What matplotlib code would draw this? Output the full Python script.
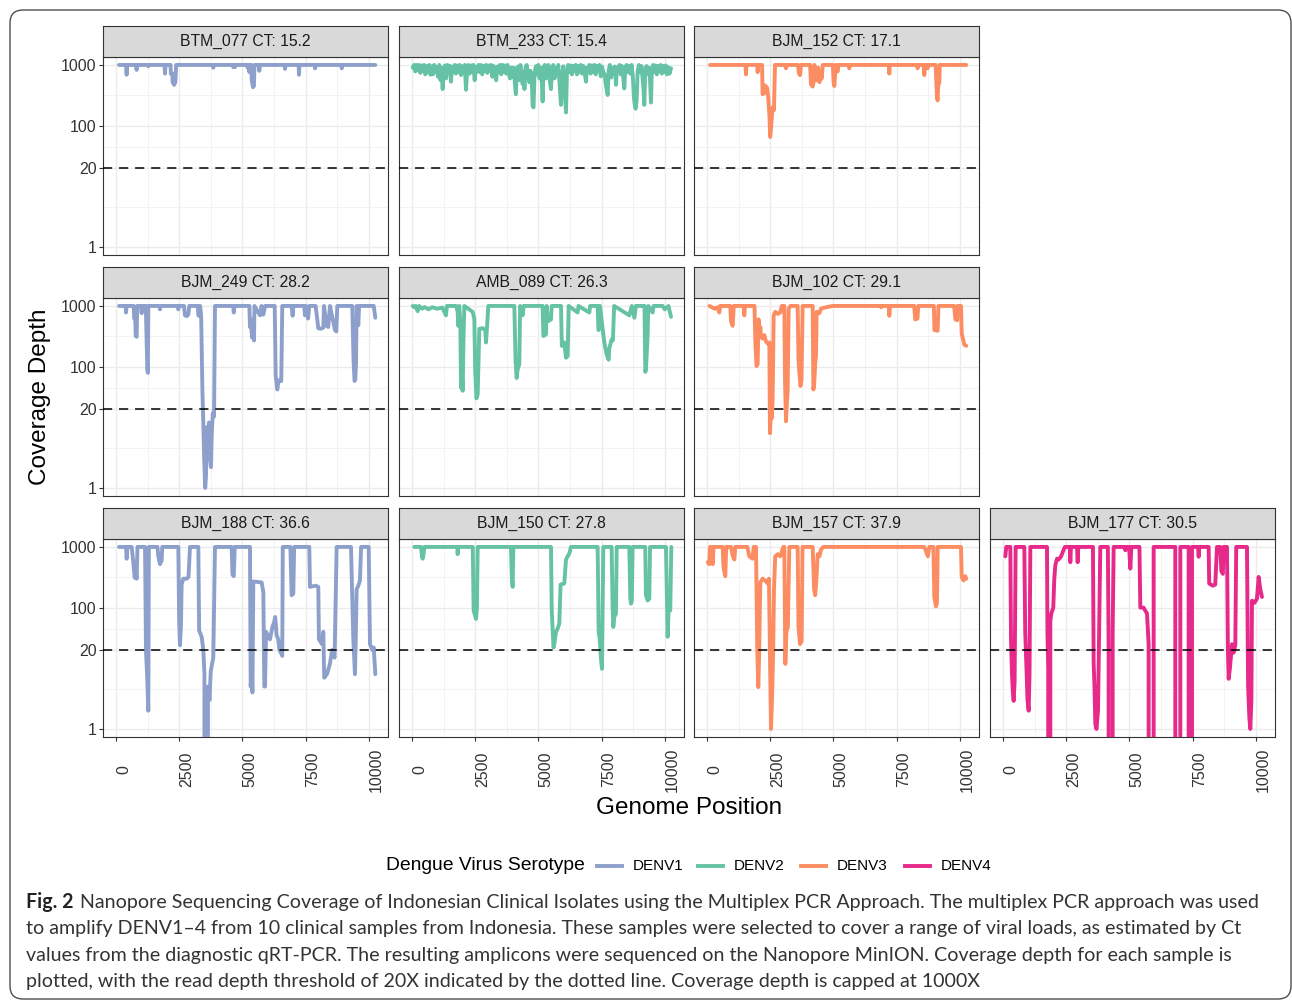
import numpy as np
import matplotlib
matplotlib.use("Agg")
import matplotlib.pyplot as plt
from matplotlib.lines import Line2D
from matplotlib.patches import FancyBboxPatch
from matplotlib.ticker import FixedLocator, NullFormatter

plt.rcParams['font.family'] = ['Liberation Sans', 'DejaVu Sans']

# ---- data (genome position, coverage depth) ----
serotypes = ['DENV1', 'DENV2', 'DENV3', 'DENV4']
serotype_colours = ['#8DA0CB', '#66C2A5', '#FC8D62', '#E7298A']

sample_names = ['BTM_077', 'BTM_233', 'BJM_152', 'BJM_249', 'AMB_089',
                'BJM_102', 'BJM_188', 'BJM_150', 'BJM_157', 'BJM_177']
sample_ct = [15.2, 15.4, 17.1, 28.2, 26.3, 29.1, 36.6, 27.8, 37.9, 30.5]
sample_serotype = ['DENV1', 'DENV2', 'DENV3', 'DENV1', 'DENV2',
                   'DENV3', 'DENV1', 'DENV2', 'DENV3', 'DENV4']

btm_077 = [(120, 1000), (400, 1000), (420, 690), (440, 1000), (800, 1000), (815, 830), (830, 1000),
           (1270, 1000), (1280, 950), (1290, 1000), (1920, 1000), (1940, 720), (1960, 1000),
           (2160, 1000), (2170, 720), (2230, 720), (2240, 520), (2300, 470), (2350, 520), (2380, 1000),
           (3840, 1000), (3850, 900), (3860, 1000), (4630, 1000), (4640, 920), (4650, 1000),
           (4700, 1000), (4710, 920), (4720, 1000), (5200, 1000), (5210, 900), (5220, 1000),
           (5270, 1000), (5280, 760), (5300, 1000), (5360, 1000), (5370, 560), (5420, 430),
           (5460, 450), (5480, 1000), (5660, 1000), (5670, 800), (5690, 1000), (6680, 1000),
           (6690, 860), (6700, 1000), (7230, 1000), (7240, 690), (7260, 1000), (7870, 1000),
           (7880, 880), (7890, 1000), (8920, 1000), (8935, 880), (8960, 1000), (10262, 1000)]

btm_233 = [(30, 900), (80, 1000), (130, 780), (180, 1000), (230, 820), (280, 1000), (330, 740),
           (380, 980), (430, 800), (480, 1000), (530, 700), (580, 960), (630, 760), (680, 1000),
           (730, 690), (780, 950), (830, 700), (880, 1000), (930, 760), (980, 930), (1030, 640),
           (1080, 1000), (1130, 560), (1170, 900), (1213, 400), (1250, 760), (1300, 980), (1350, 600),
           (1400, 1000), (1450, 780), (1500, 960), (1543, 530), (1590, 940), (1640, 760), (1690, 1000),
           (1740, 720), (1790, 980), (1840, 760), (1890, 1000), (1940, 680), (1990, 950), (2040, 740),
           (2090, 1000), (2137, 390), (2180, 800), (2230, 1000), (2280, 720), (2330, 980), (2380, 760),
           (2430, 1000), (2480, 560), (2530, 920), (2580, 780), (2630, 1000), (2680, 760), (2730, 1000),
           (2780, 700), (2830, 960), (2880, 800), (2930, 1000), (2980, 740), (3030, 980), (3080, 800),
           (3130, 1000), (3180, 640), (3230, 960), (3280, 760), (3330, 560), (3380, 940), (3430, 760),
           (3480, 1000), (3530, 700), (3580, 1000), (3630, 760), (3680, 980), (3730, 720), (3780, 1000),
           (3830, 760), (3880, 600), (3930, 900), (3980, 640), (4030, 900), (4080, 450), (4110, 330),
           (4140, 720), (4190, 940), (4240, 560), (4290, 1000), (4340, 640), (4380, 480), (4420, 760),
           (4450, 400), (4490, 900), (4540, 1000), (4590, 700), (4640, 520), (4690, 800), (4740, 560),
           (4775, 210), (4810, 200), (4850, 700), (4900, 950), (4950, 700), (5000, 1000), (5050, 600),
           (5100, 900), (5140, 500), (5170, 250), (5200, 800), (5250, 1000), (5300, 600), (5350, 900),
           (5400, 1000), (5450, 560), (5500, 400), (5540, 900), (5590, 1000), (5640, 600), (5690, 900),
           (5740, 760), (5790, 1000), (5850, 420), (5896, 220), (5940, 700), (5990, 950), (6040, 400),
           (6094, 165), (6130, 700), (6180, 1000), (6230, 760), (6280, 980), (6330, 700), (6380, 960),
           (6430, 800), (6480, 1000), (6530, 700), (6580, 960), (6630, 760), (6680, 1000), (6730, 720),
           (6780, 960), (6830, 760), (6885, 530), (6920, 900), (6970, 760), (7020, 1000), (7070, 720),
           (7120, 980), (7170, 760), (7220, 1000), (7270, 700), (7320, 960), (7370, 800), (7420, 1000),
           (7470, 650), (7520, 940), (7570, 760), (7620, 700), (7680, 450), (7743, 320), (7780, 800),
           (7830, 1000), (7880, 620), (7930, 900), (7980, 720), (8030, 940), (8072, 470), (8110, 900),
           (8160, 760), (8210, 1000), (8260, 700), (8310, 960), (8360, 600), (8402, 410), (8440, 900),
           (8490, 1000), (8540, 760), (8590, 960), (8640, 720), (8690, 1000), (8740, 640), (8780, 300),
           (8810, 230), (8850, 190), (8890, 260), (8930, 800), (8980, 1000), (9030, 760), (9080, 960),
           (9130, 560), (9160, 420), (9193, 220), (9230, 800), (9280, 960), (9330, 720), (9380, 900),
           (9420, 560), (9457, 240), (9490, 800), (9540, 1000), (9590, 760), (9640, 980), (9690, 700),
           (9740, 960), (9790, 780), (9840, 1000), (9890, 720), (9940, 960), (9990, 760), (10040, 980),
           (10090, 700), (10140, 920), (10190, 720), (10250, 880)]

bjm_152 = [(120, 1000), (1520, 1000), (1543, 700), (1560, 1000), (1990, 1000), (2005, 760), (2020, 1000),
           (2180, 1000), (2200, 330), (2260, 340), (2290, 460), (2380, 420), (2420, 300), (2470, 150),
           (2500, 65), (2532, 90), (2560, 130), (2600, 200), (2650, 180), (2690, 1000), (3100, 1000),
           (3126, 880), (3150, 1000), (3600, 1000), (3640, 720), (3680, 680), (3720, 1000), (4080, 1000),
           (4115, 480), (4180, 440), (4220, 520), (4250, 1000), (4300, 780), (4350, 560), (4400, 900),
           (4450, 520), (4480, 760), (4540, 600), (4580, 1000), (4980, 1000), (5010, 520), (5039, 450),
           (5070, 700), (5100, 1000), (5170, 780), (5200, 1000), (5620, 1000), (5632, 880), (5650, 1000),
           (7200, 1000), (7215, 720), (7230, 1000), (8320, 1000), (8336, 880), (8350, 1000), (8580, 1000),
           (8600, 680), (8620, 1000), (8720, 1000), (8732, 880), (8750, 1000), (9050, 1000), (9070, 600),
           (9100, 300), (9127, 260), (9150, 470), (9193, 500), (9210, 1000), (10262, 1000)]

bjm_249 = [(120, 1000), (380, 1000), (396, 780), (420, 1000), (700, 1000), (725, 620), (760, 700),
           (780, 320), (818, 310), (840, 1000), (990, 1000), (1016, 760), (1040, 1000), (1180, 1000),
           (1213, 260), (1240, 90), (1260, 79), (1280, 1000), (1720, 1000), (1741, 880), (1760, 1000),
           (2450, 1000), (2467, 880), (2480, 1000), (2690, 1000), (2730, 700), (2800, 680), (2860, 720),
           (2900, 1000), (3240, 1000), (3258, 700), (3300, 680), (3330, 1000), (3370, 700), (3420, 40),
           (3456, 12), (3490, 3), (3530, 1.0), (3560, 1.5), (3600, 10), (3640, 8), (3680, 12), (3720, 3),
           (3760, 2.2), (3790, 8), (3830, 17), (3880, 15), (3917, 1000), (4640, 1000), (4660, 780),
           (4690, 1000), (5280, 1000), (5302, 450), (5340, 500), (5390, 300), (5420, 600), (5461, 270),
           (5480, 1000), (5700, 700), (5760, 1000), (5830, 720), (5900, 1000), (6280, 1000), (6320, 70),
           (6384, 42), (6420, 55), (6470, 60), (6540, 58), (6580, 1000), (6950, 1000), (6990, 690),
           (7020, 1000), (7450, 1000), (7480, 700), (7520, 1000), (7600, 620), (7650, 1000), (7900, 1000),
           (8006, 430), (8100, 420), (8204, 440), (8230, 1000), (8336, 470), (8400, 450), (8468, 1000),
           (8666, 400), (8720, 380), (8758, 1000), (9350, 1000), (9400, 130), (9440, 58), (9470, 62),
           (9500, 120), (9523, 1000), (9589, 480), (9620, 1000), (10200, 1000), (10262, 640)]

amb_089 = [(30, 1000), (90, 950), (150, 1000), (224, 820), (280, 1000), (400, 900), (500, 960),
           (650, 880), (800, 950), (1000, 900), (1200, 940), (1345, 700), (1380, 1000), (1750, 1000),
           (1807, 800), (1830, 470), (1870, 1000), (1913, 520), (1939, 45), (1970, 90), (2005, 40),
           (2040, 300), (2071, 1000), (2400, 800), (2467, 620), (2500, 90), (2550, 30), (2600, 35),
           (2664, 420), (2800, 430), (2900, 400), (2928, 250), (2970, 450), (3020, 1000), (4049, 1000),
           (4100, 120), (4142, 65), (4181, 90), (4247, 110), (4280, 1000), (4379, 700), (4420, 1000),
           (5170, 1000), (5200, 320), (5302, 340), (5330, 1000), (5380, 560), (5500, 600), (5530, 1000),
           (5896, 1000), (5930, 220), (6028, 250), (6094, 140), (6160, 150), (6200, 1000), (6555, 780),
           (6590, 1000), (7017, 780), (7050, 1000), (7347, 1000), (7380, 400), (7413, 420), (7440, 1000),
           (7545, 420), (7611, 250), (7700, 160), (7782, 130), (7808, 200), (7900, 280), (7950, 270),
           (8000, 1000), (8600, 700), (8700, 1000), (8800, 640), (8860, 1000), (9200, 1000), (9233, 82),
           (9259, 90), (9300, 200), (9325, 330), (9350, 1000), (9523, 780), (9560, 1000), (9920, 1000),
           (10000, 880), (10150, 1000), (10250, 660)]

bjm_102 = [(100, 1000), (300, 900), (400, 950), (488, 780), (520, 1000), (920, 1000), (950, 560),
           (1016, 470), (1060, 1000), (1450, 1000), (1477, 700), (1500, 1000), (1880, 1000), (1913, 250),
           (1960, 102), (2005, 110), (2040, 600), (2071, 300), (2110, 450), (2137, 330), (2203, 290),
           (2269, 330), (2335, 260), (2400, 240), (2467, 250), (2493, 8), (2532, 20), (2560, 14),
           (2598, 29), (2638, 700), (2700, 800), (2800, 740), (2900, 780), (2960, 1000), (3060, 1000),
           (3087, 60), (3126, 12.6), (3160, 25), (3192, 40), (3232, 900), (3300, 1000), (3588, 1000),
           (3620, 130), (3654, 80), (3700, 48), (3740, 60), (3785, 1000), (4181, 1000), (4210, 42),
           (4240, 50), (4280, 110), (4313, 150), (4340, 800), (4445, 760), (4511, 900), (4700, 950),
           (4973, 1000), (6880, 1000), (6890, 950), (6900, 1000), (7200, 1000), (7215, 690), (7240, 1000),
           (8200, 1000), (8240, 600), (8330, 620), (8360, 1000), (8980, 1000), (9000, 400), (9127, 390),
           (9160, 1000), (9780, 1000), (9830, 600), (9900, 580), (9919, 1000), (10051, 1000),
           (10080, 350), (10183, 230), (10262, 220)]

bjm_188 = [(120, 1000), (396, 1000), (422, 640), (450, 1000), (620, 1000), (686, 560), (740, 310),
           (780, 400), (818, 300), (850, 1000), (1150, 1000), (1187, 19), (1230, 8), (1279, 2.0),
           (1300, 1000), (1640, 1000), (1675, 700), (1741, 520), (1807, 600), (1830, 1000), (2467, 1000),
           (2500, 60), (2532, 24), (2570, 50), (2598, 240), (2664, 300), (2800, 300), (2870, 320),
           (2928, 1000), (3258, 1000), (3290, 42), (3390, 33), (3456, 20), (3500, 8), (3540, 0),
           (3614, 0), (3640, 5), (3700, 3), (3750, 9), (3850, 15), (3917, 1000), (4577, 1000),
           (4610, 350), (4660, 330), (4700, 1000), (5302, 1000), (5330, 5), (5368, 10), (5400, 4),
           (5434, 270), (5764, 260), (5830, 180), (5870, 5), (5896, 5), (5940, 40), (6028, 33),
           (6094, 30), (6200, 50), (6250, 55), (6300, 70), (6358, 35), (6420, 30), (6470, 20),
           (6555, 17), (6580, 16), (6600, 1000), (6900, 1000), (6951, 160), (7017, 170), (7050, 1000),
           (7650, 1000), (7677, 220), (7900, 230), (8006, 220), (8030, 30), (8150, 25), (8204, 40),
           (8240, 7), (8350, 8), (8468, 12), (8550, 20), (8650, 15), (8732, 1000), (9300, 1000),
           (9391, 30), (9457, 8), (9490, 35), (9523, 200), (9589, 230), (9655, 280), (9700, 1000),
           (10000, 1000), (10051, 25), (10150, 20), (10200, 22), (10262, 8)]

bjm_150 = [(92, 1000), (356, 1000), (396, 700), (420, 640), (460, 760), (488, 1000), (1800, 1000),
           (1807, 760), (1820, 1000), (2405, 1000), (2440, 90), (2532, 65), (2570, 100), (2600, 1000),
           (3917, 1000), (3950, 330), (3983, 220), (4010, 1000), (5500, 1000), (5530, 90), (5600, 22),
           (5632, 25), (5698, 40), (5764, 45), (5830, 55), (5880, 240), (6028, 250), (6094, 620),
           (6160, 700), (6226, 780), (6290, 1000), (7347, 1000), (7386, 40), (7430, 30), (7479, 14),
           (7518, 9.8), (7545, 100), (7570, 1000), (7900, 1000), (7940, 100), (7967, 48), (8006, 70),
           (8072, 80), (8100, 1000), (8600, 1000), (8640, 140), (8666, 116), (8700, 130), (8732, 1000),
           (9230, 1000), (9259, 160), (9325, 131), (9391, 140), (9420, 1000), (10051, 1000),
           (10117, 33), (10160, 110), (10220, 90), (10262, 1000)]

bjm_157 = [(30, 560), (92, 520), (120, 1000), (158, 700), (200, 1000), (224, 520), (260, 1000),
           (620, 1000), (650, 500), (686, 390), (725, 330), (760, 1000), (950, 1000), (1016, 720),
           (1082, 620), (1120, 1000), (1600, 1000), (1675, 700), (1800, 640), (1850, 1000), (1939, 1000),
           (1990, 20), (2030, 4.9), (2060, 15), (2110, 260), (2200, 300), (2300, 280), (2401, 250),
           (2450, 300), (2480, 40), (2532, 1.0), (2572, 3), (2620, 20), (2650, 200), (2700, 700),
           (2800, 760), (2900, 700), (3020, 1000), (3060, 1000), (3100, 11.8), (3140, 40), (3200, 48),
           (3258, 1000), (3588, 1000), (3620, 48), (3680, 25), (3746, 28), (3780, 1000), (4181, 1000),
           (4240, 200), (4280, 160), (4320, 250), (4380, 760), (4450, 700), (4511, 900), (4600, 1000),
           (8600, 1000), (8690, 800), (8740, 700), (8800, 1000), (8960, 1000), (8996, 150), (9062, 105),
           (9100, 120), (9130, 1000), (10051, 1000), (10080, 320), (10150, 280), (10220, 330),
           (10262, 300)]

bjm_177 = [(92, 700), (130, 1000), (290, 1000), (317, 30), (356, 8), (390, 4), (422, 2.9), (460, 6),
           (500, 1000), (844, 1000), (880, 40), (923, 12), (970, 3), (1016, 2), (1050, 8), (1082, 1000),
           (1741, 1000), (1760, 37), (1790, 10), (1807, 0), (1840, 0), (1873, 60), (1913, 80),
           (1990, 100), (2030, 300), (2071, 500), (2137, 640), (2203, 620), (2300, 700), (2401, 900),
           (2450, 1000), (2640, 1000), (2664, 560), (2690, 1000), (2930, 1000), (2955, 560), (2980, 1000),
           (3560, 1000), (3588, 12), (3620, 5), (3654, 1.2), (3700, 1.0), (3760, 2), (3851, 1000),
           (4150, 1000), (4181, 20), (4230, 0), (4313, 0), (4340, 40), (4379, 1000), (4820, 1000),
           (4841, 880), (4870, 1000), (4990, 1000), (5039, 440), (5080, 1000), (5400, 1000), (5434, 100),
           (5560, 100), (5698, 80), (5764, 25), (5830, 0), (5930, 0), (5962, 1000), (6819, 1000),
           (6850, 0), (6950, 0), (7017, 1000), (7347, 1000), (7380, 0), (7439, 0), (7479, 1000),
           (7720, 1000), (7743, 690), (7770, 1000), (8138, 1000), (8160, 250), (8300, 230), (8400, 240),
           (8468, 1000), (8600, 1000), (8640, 400), (8700, 360), (8732, 1000), (8864, 1000), (8900, 20),
           (8930, 6.7), (8980, 10), (9062, 25), (9120, 18), (9193, 24), (9230, 1000), (9655, 1000),
           (9700, 5), (9750, 1.5), (9787, 1.0), (9830, 3), (9853, 130), (9950, 120), (10050, 140),
           (10117, 320), (10183, 200), (10249, 150)]

coverage = [btm_077, btm_233, bjm_152, bjm_249, amb_089, bjm_102, bjm_188, bjm_150, bjm_157, bjm_177]

y_breaks = [1, 20, 100, 1000]
x_breaks = [0, 2500, 5000, 7500, 10000]
threshold = 20

caption = ["Nanopore Sequencing Coverage of Indonesian Clinical Isolates using the Multiplex PCR Approach. The multiplex PCR approach was used",
           "to amplify DENV1\u20134 from 10 clinical samples from Indonesia. These samples were selected to cover a range of viral loads, as estimated by Ct",
           "values from the diagnostic qRT-PCR. The resulting amplicons were sequenced on the Nanopore MinION. Coverage depth for each sample is",
           "plotted, with the read depth threshold of 20X indicated by the dotted line. Coverage depth is capped at 1000X"]

# ---- layout (pixels) ----
W, H = 1292, 1002
fig = plt.figure(figsize=(W / 100, H / 100), dpi=100)
fig.patch.set_facecolor('white')

def fx(px):
    return px / W

def fy(py):
    return 1 - py / H

col_left = [102.7, 398.7, 693.7, 989.7]
row_top = [56.7, 297.7, 538.7]
panel_w, panel_h, strip_h = 285.6, 198.5, 30.7
slots = [(0, 0), (0, 1), (0, 2), (1, 0), (1, 1), (1, 2), (2, 0), (2, 1), (2, 2), (2, 3)]

frame = FancyBboxPatch((10 / 100, 3 / 100), 1281 / 100, 989 / 100,
                       boxstyle='round,pad=0,rounding_size=0.13',
                       transform=fig.dpi_scale_trans, fill=False,
                       edgecolor='#4d4d4d', linewidth=1.0)
fig.patches.append(frame)

ymin, ymax = 10 ** -0.136, 10 ** 3.136
for i, (name, ct, sero, pts) in enumerate(zip(sample_names, sample_ct, sample_serotype, coverage)):
    r, c = slots[i]
    l, t = col_left[c], row_top[r]
    ax = fig.add_axes([fx(l), fy(t + panel_h), panel_w / W, panel_h / H])
    pts = np.array(pts, dtype=float)
    colour = serotype_colours[serotypes.index(sero)]
    ax.set_yscale('log')
    ax.set_xlim(-526, 10776)
    ax.set_ylim(ymin, ymax)
    ax.xaxis.set_major_locator(FixedLocator(x_breaks))
    ax.xaxis.set_minor_locator(FixedLocator([1250, 3750, 6250, 8750]))
    ax.yaxis.set_major_locator(FixedLocator(y_breaks))
    ax.yaxis.set_minor_locator(FixedLocator([np.sqrt(20), np.sqrt(2000), np.sqrt(1e5)]))
    ax.xaxis.set_minor_formatter(NullFormatter())
    ax.yaxis.set_minor_formatter(NullFormatter())
    ax.grid(which='major', color='#EBEBEB', linewidth=1.0, zorder=0)
    ax.grid(which='minor', color='#F1F1F1', linewidth=0.6, zorder=0)
    ax.set_axisbelow(True)
    ax.plot(pts[:, 0], pts[:, 1], color=colour, lw=2.8,
            solid_joinstyle='round', solid_capstyle='round', zorder=3)
    ax.axhline(threshold, color='black', lw=1.1, ls=(0, (6, 4.5)), zorder=4)
    for s in ax.spines.values():
        s.set_color('#333333')
        s.set_linewidth(0.8)
    ax.tick_params(which='minor', length=0)
    ax.tick_params(which='major', colors='#333333', width=0.8, length=2.9,
                   labelsize=11.5, labelcolor='#333333')
    if c == 0:
        ax.set_yticklabels([str(v) for v in y_breaks])
        ax.tick_params(axis='y', pad=1.5)
    else:
        ax.tick_params(axis='y', length=0, labelleft=False)
    if r == 2:
        ax.set_xticklabels([str(v) for v in x_breaks], rotation=90, ha='left', va='center')
        ax.tick_params(axis='x', pad=20.4)
    else:
        ax.tick_params(axis='x', length=0, labelbottom=False)

    sax = fig.add_axes([fx(l), fy(t), panel_w / W, strip_h / H])
    sax.set_facecolor('#D9D9D9')
    sax.set_xticks([])
    sax.set_yticks([])
    for s in sax.spines.values():
        s.set_color('#333333')
        s.set_linewidth(0.8)
    sax.text(0.5, 0.5, f'{name} CT: {ct}', ha='center', va='center',
             fontsize=11.3, color='#1A1A1A', transform=sax.transAxes)

fig.text(fx(689), fy(808), 'Genome Position', ha='center', va='center', fontsize=17.5, color='black')
fig.text(fx(40), fy(397), 'Coverage Depth', ha='center', va='center', rotation=90,
         fontsize=17.5, color='black')

# legend
fig.text(fx(386), fy(866), 'Dengue Virus Serotype', ha='left', va='center', fontsize=13.9)
key_left = [597, 698, 801, 905]
for k, (lab, colour) in enumerate(zip(serotypes, serotype_colours)):
    fig.lines.append(Line2D([fx(key_left[k]), fx(key_left[k] + 25)], [fy(866), fy(866)],
                            transform=fig.transFigure, color=colour, lw=2.8))
    fig.text(fx(key_left[k] + 36), fy(866), lab, ha='left', va='center', fontsize=11)

# caption
rend = fig.canvas.get_renderer()
cap_font = 'Lato'
cap_colour = '#333333'
fs = 14
head = fig.text(fx(26), fy(908), 'Fig. 2', fontsize=fs, fontweight='bold',
                family=[cap_font, 'DejaVu Sans'], color='#222222', va='baseline')
lines = []
for j, txt in enumerate(caption):
    lines.append(fig.text(fx(26), fy(908 + 26.3 * j), txt, fontsize=fs,
                          family=[cap_font, 'DejaVu Sans'], color=cap_colour, va='baseline'))
gap = 6
w_head = head.get_window_extent(rend).width
w_first = lines[0].get_window_extent(rend).width
scale = (1233 - gap) / (w_head + w_first)
fs = fs * scale
head.set_fontsize(fs)
for tx in lines:
    tx.set_fontsize(fs)
w_head = head.get_window_extent(rend).width
lines[0].set_x(fx(26 + w_head + gap))

fig.savefig('out.png', dpi=100, facecolor='white')
